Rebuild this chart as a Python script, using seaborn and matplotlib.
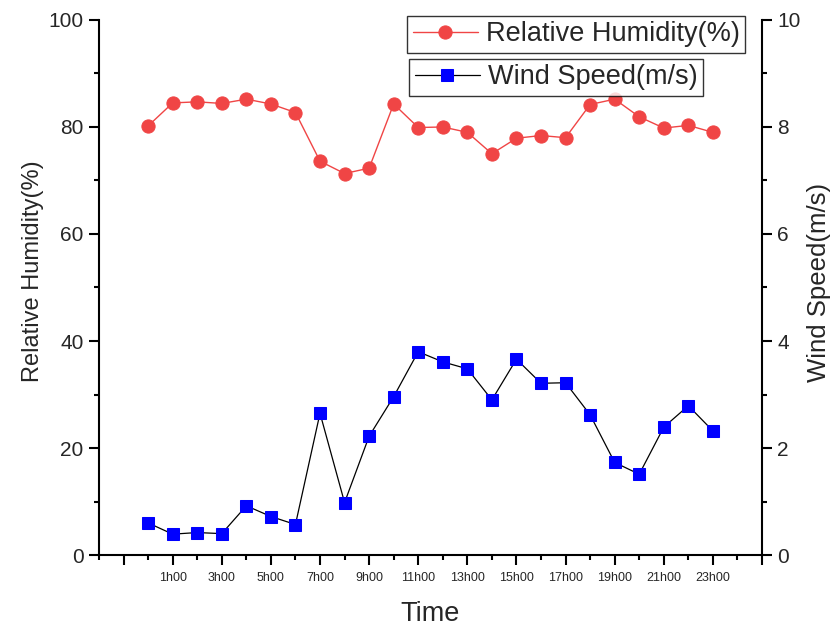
import matplotlib
matplotlib.use("Agg")
import matplotlib.pyplot as plt
from matplotlib.ticker import MultipleLocator, FixedLocator, FixedFormatter
import seaborn as sns
import pandas as pd

sns.set_theme(style="white")
plt.rcParams["font.family"] = ["Liberation Sans", "DejaVu Sans"]

# Hourly observations (0h00 .. 23h00)
hours = list(range(24))
humidity = [80.2, 84.5, 84.7, 84.4, 85.2, 84.3, 82.7, 73.6, 71.3, 72.3, 84.3, 79.9,
            80.0, 79.0, 75.0, 77.9, 78.4, 78.0, 84.2, 85.2, 81.9, 79.8, 80.3, 79.0]
wind_speed = [0.60, 0.39, 0.42, 0.40, 0.92, 0.72, 0.57, 2.65, 0.98, 2.22, 2.96, 3.80,
              3.61, 3.48, 2.90, 3.66, 3.21, 3.22, 2.62, 1.73, 1.51, 2.39, 2.79, 2.32]
tick_hours = list(range(-1, 26, 2))
tick_labels = ["" if h < 0 or h > 23 else f"{h}h00" for h in tick_hours]

df = pd.DataFrame({"hour": hours, "rh": humidity, "ws": wind_speed})

fig = plt.figure(figsize=(8.37, 6.28), dpi=100)
ax = fig.add_axes([0.1183, 0.1162, 0.7921, 0.852])
ax2 = ax.twinx()

red = "#F04545"
sns.lineplot(data=df, x="hour", y="rh", ax=ax, color=red, linewidth=1.0,
             marker="o", markersize=9.5, markeredgecolor=red, markerfacecolor=red,
             label="Relative Humidity(%)", legend=False)
sns.lineplot(data=df, x="hour", y="ws", ax=ax2, color="black", linewidth=0.9,
             marker="s", markersize=8, markeredgecolor="#0000FF", markerfacecolor="#0000FF",
             label="Wind Speed(m/s)", legend=False)

ax.set_xlim(-2, 25)
ax.set_ylim(0, 100)
ax2.set_ylim(0, 10)

ax.xaxis.set_major_locator(FixedLocator(tick_hours))
ax.xaxis.set_major_formatter(FixedFormatter(tick_labels))
ax.xaxis.set_minor_locator(FixedLocator(list(range(-2, 26, 2))))
ax.yaxis.set_major_locator(MultipleLocator(20))
ax.yaxis.set_minor_locator(MultipleLocator(10))
ax2.yaxis.set_major_locator(MultipleLocator(2))
ax2.yaxis.set_minor_locator(MultipleLocator(1))

for a in (ax, ax2):
    for side in ("left", "right", "bottom"):
        a.spines[side].set_visible(True)
        a.spines[side].set_color("black")
        a.spines[side].set_linewidth(1.5)
    a.spines["top"].set_visible(False)
    a.grid(False)
ax.spines["right"].set_visible(False)
ax2.spines["left"].set_visible(False)
ax2.spines["bottom"].set_visible(False)

ax.tick_params(axis="x", which="major", direction="out", length=7, width=1.5,
               labelsize=9, color="black", pad=5, bottom=True)
ax.tick_params(axis="x", which="minor", direction="out", length=3.5, width=1.5,
               color="black", bottom=True)
ax.tick_params(axis="y", which="major", direction="out", length=7, width=1.5,
               labelsize=15, color="black", pad=4, left=True)
ax.tick_params(axis="y", which="minor", direction="out", length=3.5, width=1.5,
               color="black", left=True)
ax2.tick_params(axis="y", which="major", direction="out", length=7, width=1.5,
                labelsize=15, color="black", pad=4, right=True)
ax2.tick_params(axis="y", which="minor", direction="out", length=3.5, width=1.5,
                color="black", right=True)

ax.set_xlabel("Time", fontsize=19.5)
ax.set_ylabel("Relative Humidity(%)", fontsize=17)
ax2.set_ylabel("Wind Speed(m/s)", fontsize=18.5)
ax.xaxis.set_label_coords(0.5, -0.085)
ax.yaxis.set_label_coords(-0.083, 0.53)
ax2.yaxis.set_label_coords(1.068, 0.51)

leg_kw = dict(fontsize=19.5, frameon=True, fancybox=False, shadow=False,
              handlelength=2.4, handletextpad=0.3, borderpad=0.2,
              borderaxespad=0, bbox_transform=fig.transFigure, loc="upper right")
l1 = ax2.legend(*ax.get_legend_handles_labels(), bbox_to_anchor=(0.890, 0.975), **leg_kw)
l1.get_frame().set_edgecolor("black")
l1.get_frame().set_linewidth(1.0)
ax2.add_artist(l1)
l2 = ax2.legend(*ax2.get_legend_handles_labels(), bbox_to_anchor=(0.840, 0.906), **leg_kw)
l2.get_frame().set_edgecolor("black")
l2.get_frame().set_linewidth(1.0)

fig.savefig("out.png", dpi=100)
